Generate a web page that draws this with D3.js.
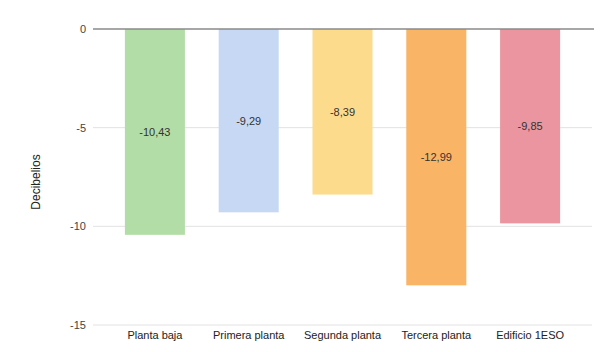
<!DOCTYPE html>
<html>
<head>
<meta charset="utf-8">
<script src="https://cdn.jsdelivr.net/npm/d3@7"></script>
<style>
  html, body { margin: 0; padding: 0; background: #fff; }
  svg { display: block; font-family: "Liberation Sans", Arial, sans-serif; }
</style>
</head>
<body>
<svg id="chart" width="600" height="352"></svg>
<script>
// Attenuation per location, in decibels
const categories = ["Planta baja", "Primera planta", "Segunda planta", "Tercera planta", "Edificio 1ESO"];
const values = [-10.43, -9.29, -8.39, -12.99, -9.85];
const valueLabels = ["-10,43", "-9,29", "-8,39", "-12,99", "-9,85"];
const barColors = ["#b2dda6", "#c7d8f4", "#fddb8d", "#f9b466", "#eb95a0"];
const yTicks = [0, -5, -10, -15];
const yTitle = "Decibelios";

const svg = d3.select("#chart");

const x = d3.scaleBand()
  .domain(categories)
  .range([108, 577])
  .paddingInner(0.36)
  .paddingOuter(0.18);

const y = d3.scaleLinear()
  .domain([0, -15])
  .range([29, 325]);

// horizontal gridlines
svg.append("g")
  .selectAll("line")
  .data(yTicks.filter(t => t !== 0))
  .join("line")
  .attr("x1", 93).attr("x2", 592)
  .attr("y1", d => y(d)).attr("y2", d => y(d))
  .attr("stroke", "#e2e2e2").attr("stroke-width", 1);

// y axis tick labels
const yAxis = d3.axisLeft(y).tickValues(yTicks).tickSize(0).tickPadding(0)
  .tickFormat(d => d3.format("d")(d).replace("−", "-"));
const gy = svg.append("g").attr("transform", "translate(86,0)").call(yAxis);
gy.select(".domain").remove();
gy.selectAll("text")
  .attr("fill", "#444")
  .style("font-size", "11px")
  .style("font-family", "Liberation Sans, Arial, sans-serif");

// bars
svg.append("g")
  .selectAll("rect")
  .data(categories)
  .join("rect")
  .attr("x", d => x(d))
  .attr("width", x.bandwidth())
  .attr("y", y(0))
  .attr("height", (d, i) => y(values[i]) - y(0))
  .attr("fill", (d, i) => barColors[i]);

// zero baseline
svg.append("line")
  .attr("x1", 93).attr("x2", 594)
  .attr("y1", y(0)).attr("y2", y(0))
  .attr("stroke", "#8a8a8a").attr("stroke-width", 1.5);

// value labels centred inside each bar
svg.append("g")
  .selectAll("text")
  .data(categories)
  .join("text")
  .attr("x", d => x(d) + x.bandwidth() / 2)
  .attr("y", (d, i) => y(values[i] / 2))
  .attr("dy", "0.35em")
  .attr("text-anchor", "middle")
  .attr("fill", "#333")
  .style("font-size", "11px")
  .text((d, i) => valueLabels[i]);

// category labels
const xAxis = d3.axisBottom(x).tickSize(0).tickPadding(0);
const gx = svg.append("g").attr("transform", "translate(0,331)").call(xAxis);
gx.select(".domain").remove();
gx.selectAll("text")
  .attr("fill", "#222")
  .style("font-size", "11px")
  .style("font-family", "Liberation Sans, Arial, sans-serif");

// y axis title
svg.append("text")
  .attr("transform", "translate(40,182) rotate(-90)")
  .attr("text-anchor", "middle")
  .attr("fill", "#222")
  .style("font-size", "12px")
  .text(yTitle);
</script>
</body>
</html>
